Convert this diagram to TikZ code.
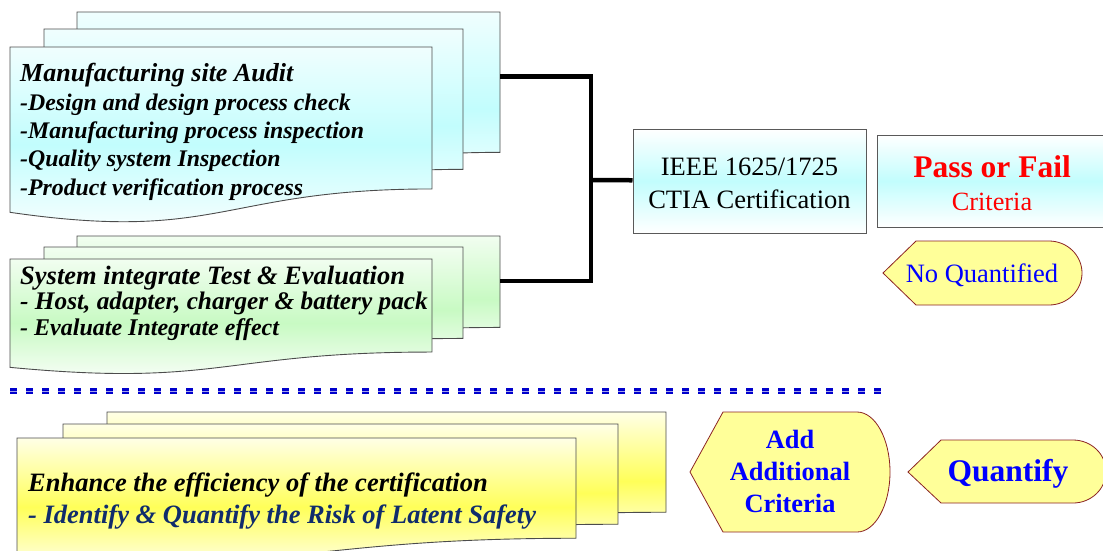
\documentclass[tikz,border=0pt]{standalone}
\usepackage{fontspec}
\setmainfont{Liberation Serif}
\usepackage{tikz}
\usetikzlibrary{
	positioning
}
\definecolor{iceblue}{HTML}{C2FDFD}
\definecolor{mint}{HTML}{C8FAC3}
\definecolor{lemon}{HTML}{FFFF59}
\definecolor{flagfill}{HTML}{FFFF99}
\definecolor{flagline}{HTML}{8B2323}
\definecolor{ruleblue}{HTML}{0000CC}
\definecolor{navy}{HTML}{102C6C}
\tikzset{
	page/.style={
		draw=black!70, line width=0.9pt
	},
	audit page/.style={
		page, top color=iceblue!25, bottom color=white, middle color=iceblue
	},
	test page/.style={
		page, top color=mint!25, bottom color=white, middle color=mint
	},
	plan page/.style={
		page, top color=lemon!15, bottom color=white, middle color=lemon
	},
	page text/.style={
		inner sep=0pt, align=left
	},
	cert/.style={
		draw=black!65, line width=1pt, inner sep=0pt, align=center,
		top color=white, bottom color=white, middle color=iceblue
	},
	link/.style={
		line width=4.5pt
	},
	flag/.style={
		draw=flagline, line width=0.8pt, fill=flagfill
	},
	flag text/.style={
		text=blue, inner sep=0pt, align=center
	},
	divider/.style={
		draw=ruleblue, line width=2.6pt, double=ruleblue!35,
		double distance=0.9pt, dash pattern=on 7pt off 9pt
	}
}
% one sheet with a wavy lower edge: style, left, top, width, height
\newcommand{\docpage}[5]{%
	\path[#1, shift={(#2,#3)}, x=#4pt, y=-#5pt]
		(0,0) -- (1,0) -- (1,.802)
		.. controls (.5,.802) and (.5,1.107) .. (0,.934) -- cycle;
}

\begin{document}
\begin{tikzpicture}[x=1pt, y=-1pt]
	\useasboundingbox (0,0) rectangle (1103,550);
	\clip (0,0) rectangle (1103,550);

	% audit sheets
	\docpage{audit page}{77}{12}{423}{175}
	\docpage{audit page}{44}{29}{419}{175}
	\docpage{audit page}{10}{47}{422}{177}
	\node[page text, anchor=base west,
		font=\bfseries\itshape\fontsize{23.8}{28.3}\selectfont] (audit) at (20,195)
		{{\fontsize{26}{28.3}\selectfont Manufacturing site Audit}\\
		-Design and design process check\\
		-Manufacturing process inspection\\
		-Quality system Inspection\\
		-Product verification process};

	% test sheets
	\docpage{test page}{77}{236}{423}{114}
	\docpage{test page}{44}{247}{419}{114}
	\docpage{test page}{10}{259}{422}{116}
	\node[page text, anchor=base west,
		font=\bfseries\itshape\fontsize{24}{25.5}\selectfont] (systest) at (20,335)
		{{\fontsize{26.5}{25.5}\selectfont System integrate Test \& Evaluation}\\
		{\fontsize{25.3}{25.5}\selectfont - Host, adapter, charger \& battery pack}\\
		- Evaluate Integrate effect};

	\coordinate (auditR) at (500,76.5);
	\coordinate (testR) at (500,281);
	\coordinate (fork) at (591,180);

	\node[cert, minimum width=233pt, minimum height=104pt,
		font=\fontsize{26.5}{33}\selectfont] (ieee) at (749.5,181)
		{\rule{0pt}{22pt}IEEE 1625/1725\\CTIA Certification};
	\node[cert, minimum width=230pt, minimum height=92pt, right=10pt of ieee,
		text=red, font=\fontsize{26.3}{33}\selectfont] (verdict)
		{\rule{0pt}{27pt}{\bfseries\fontsize{31.5}{33}\selectfont Pass or Fail}\\Criteria};

	\draw[link] (auditR) -| (fork) |- (testR);
	\draw[link] (fork) -- (ieee);

	\draw[flag] (883,273) -- (916,241) -- (1049,241)
		arc[start angle=-90, end angle=90, x radius=33, y radius=32]
		-- (916,305) -- cycle;
	\node[flag text, anchor=base, font=\fontsize{26.5}{30}\selectfont] (noquant)
		at (982,282) {No Quantified};

	% dotted split
	\coordinate (ruleL) at (10,391);
	\coordinate (ruleR) at (882,391);
	\draw[divider] (ruleL) -- (ruleR);

	% plan sheets
	\docpage{plan page}{107}{412}{559}{125}
	\docpage{plan page}{63}{424}{555}{125}
	\docpage{plan page}{17}{438}{559}{125}
	\node[page text, anchor=base west,
		font=\bfseries\itshape\fontsize{26.5}{32}\selectfont] (enhance) at (28,523)
		{Enhance the efficiency of the certification\\
		\textcolor{navy}{- Identify \& Quantify the Risk of Latent Safety}};

	\draw[flag] (690,472) -- (723,412) -- (857,412)
		arc[start angle=-90, end angle=90, x radius=33, y radius=60]
		-- (723,532) -- cycle;
	\node[flag text, anchor=base, font=\bfseries\fontsize{26.4}{32}\selectfont] (addcrit)
		at (790,512) {Add\\Additional\\Criteria};

	\draw[flag] (908,472) -- (941,440) -- (1073,440)
		arc[start angle=-90, end angle=90, x radius=33, y radius=31.5]
		-- (941,503) -- cycle;
	\node[flag text, anchor=base, font=\bfseries\fontsize{31.5}{36}\selectfont] (quant)
		at (1008,481) {Quantify};
\end{tikzpicture}
\end{document}
